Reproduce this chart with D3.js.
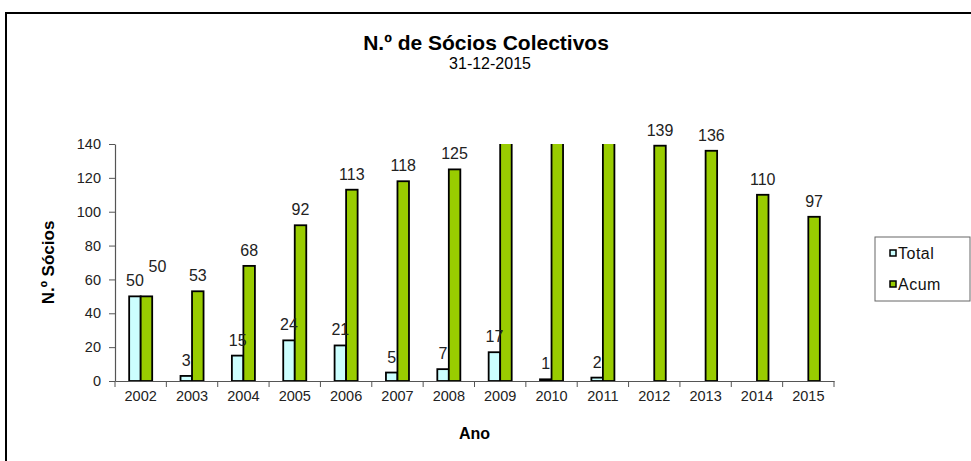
<!DOCTYPE html>
<html>
<head>
<meta charset="utf-8">
<script src="https://cdn.jsdelivr.net/npm/d3@7"></script>
<style>
  body { margin: 0; background: #fff; }
  svg { display: block; font-family: "Liberation Sans", Arial, sans-serif; }
</style>
</head>
<body>
<div class="chart"></div>
<script>
let years = ['2002', '2003', '2004', '2005', '2006', '2007', '2008',
             '2009', '2010', '2011', '2012', '2013', '2014', '2015'];
let total = [50, 3, 15, 24, 21, 5, 7, 17, 1, 2, 0, 0, 0, 0];
let acum = [50, 53, 68, 92, 113, 118, 125, 142, 143, 145, 139, 136, 110, 97];
let yTicks = [0, 20, 40, 60, 80, 100, 120, 140];
let seriesNames = ['Total', 'Acum'];
let colors = { Total: '#ccffff', Acum: '#99cc00' };

let W = 971, H = 461;
let plot = { left: 115, right: 834, top: 144, bottom: 381 };

let svg = d3.select('.chart')
  .append('svg')
    .attr('width', W)
    .attr('height', H);

// outer chart frame
svg.append('rect')
  .attr('x', 6).attr('y', 13)
  .attr('width', W + 10).attr('height', H + 10)
  .style('fill', 'none')
  .style('stroke', '#000')
  .style('stroke-width', 2);

// titles
svg.append('text')
  .attr('x', 486).attr('y', 50)
  .attr('text-anchor', 'middle')
  .style('font-size', '21px')
  .style('font-weight', 'bold')
  .text('N.º de Sócios Colectivos');

svg.append('text')
  .attr('x', 490).attr('y', 69)
  .attr('text-anchor', 'middle')
  .style('font-size', '16px')
  .text('31-12-2015');

let rows = years.map((y, i) => ({ year: y, Total: total[i], Acum: acum[i] }));

let x0 = d3.scaleBand()
  .domain(years)
  .range([plot.left, plot.right])
  .padding(0);

let x1 = d3.scaleBand()
  .domain(seriesNames)
  .range([0, x0.bandwidth()])
  .paddingInner(0)
  .paddingOuter(1.23);

let yScale = d3.scaleLinear()
  .domain([0, 140])
  .range([plot.bottom, plot.top]);

svg.append('clipPath')
  .attr('id', 'plotclip')
  .append('rect')
    .attr('x', plot.left - 2)
    .attr('y', plot.top)
    .attr('width', plot.right - plot.left + 4)
    .attr('height', plot.bottom - plot.top + 4);

// bars
let groups = svg.append('g')
    .attr('clip-path', 'url(#plotclip)')
  .selectAll('g')
  .data(rows)
  .join('g')
    .attr('transform', d => `translate(${x0(d.year)}, 0)`);

groups.selectAll('rect')
  .data(d => seriesNames.map(k => ({ key: k, value: d[k] })))
  .join('rect')
    .attr('x', d => x1(d.key))
    .attr('y', d => yScale(d.value))
    .attr('width', x1.bandwidth())
    .attr('height', d => plot.bottom - yScale(d.value))
    .style('fill', d => colors[d.key])
    .style('stroke', '#000')
    .style('stroke-width', 1.8);

// axes
let yAxis = d3.axisLeft(yScale)
  .tickValues(yTicks)
  .tickSizeInner(6)
  .tickSizeOuter(0)
  .tickPadding(8);

let gy = svg.append('g')
  .attr('transform', `translate(${plot.left}, 0)`)
  .call(yAxis);

let xAxis = d3.axisBottom(x0)
  .tickSize(0)
  .tickPadding(10);

let gx = svg.append('g')
  .attr('transform', `translate(0, ${plot.bottom})`)
  .call(xAxis);

// tick marks between categories
gx.selectAll('.sep')
  .data(d3.range(years.length + 1))
  .join('line')
    .attr('class', 'sep')
    .attr('x1', i => plot.left + i * x0.step())
    .attr('x2', i => plot.left + i * x0.step())
    .attr('y1', 0).attr('y2', 6)
    .style('stroke', '#555');

[gx, gy].forEach(g => {
  g.select('.domain').style('stroke', '#555').style('stroke-width', 1.2);
  g.selectAll('.tick line').style('stroke', '#555');
  g.selectAll('.tick text')
    .style('font-size', '14.5px')
    .style('font-family', '"Liberation Sans", Arial, sans-serif')
    .style('fill', '#222');
});

// data labels (hidden when value is off scale or zero)
let labelData = [];
rows.forEach(r => {
  seriesNames.forEach(k => {
    if (r[k] > 0 && r[k] <= 140) {
      labelData.push({
        key: k, year: r.year, value: r[k],
        x: x0(r.year) + x1(k) + x1.bandwidth() / 2,
        y: yScale(r[k]) - 10
      });
    }
  });
});
// nudge colliding labels of the same year
labelData.forEach(a => {
  if (a.key !== 'Acum') return;
  let b = labelData.find(o => o.year === a.year && o.key === 'Total');
  if (b && Math.abs(b.y - a.y) < 14) {
    a.x += 11;
    a.y -= 14;
  }
});

svg.append('g')
  .selectAll('text')
  .data(labelData)
  .join('text')
    .attr('x', d => d.x)
    .attr('y', d => d.y)
    .attr('text-anchor', 'middle')
    .style('font-size', '16px')
    .style('fill', '#222')
    .text(d => d.value);

// axis titles
svg.append('text')
  .attr('transform', `translate(54, ${(plot.top + plot.bottom) / 2}) rotate(-90)`)
  .attr('text-anchor', 'middle')
  .style('font-size', '17px')
  .style('font-weight', 'bold')
  .text('N.º Sócios');

svg.append('text')
  .attr('x', (plot.left + plot.right) / 2)
  .attr('y', 439)
  .attr('text-anchor', 'middle')
  .style('font-size', '16px')
  .style('font-weight', 'bold')
  .text('Ano');

// legend
let legend = svg.append('g')
  .attr('transform', 'translate(875, 237)');

legend.append('rect')
  .attr('width', 95).attr('height', 64)
  .style('fill', '#fff')
  .style('stroke', '#666')
  .style('stroke-width', 1);

let items = legend.selectAll('.item')
  .data(seriesNames)
  .join('g')
    .attr('class', 'item')
    .attr('transform', (d, i) => `translate(15, ${16 + i * 31})`);

items.append('rect')
  .attr('x', 0).attr('y', -3)
  .attr('width', 6).attr('height', 6)
  .style('fill', d => colors[d])
  .style('stroke', '#000')
  .style('stroke-width', 1.5);

items.append('text')
  .attr('x', 8).attr('y', 6)
  .style('font-size', '16px')
  .style('letter-spacing', '0.5px')
  .style('fill', '#111')
  .text(d => d);
</script>
</body>
</html>
